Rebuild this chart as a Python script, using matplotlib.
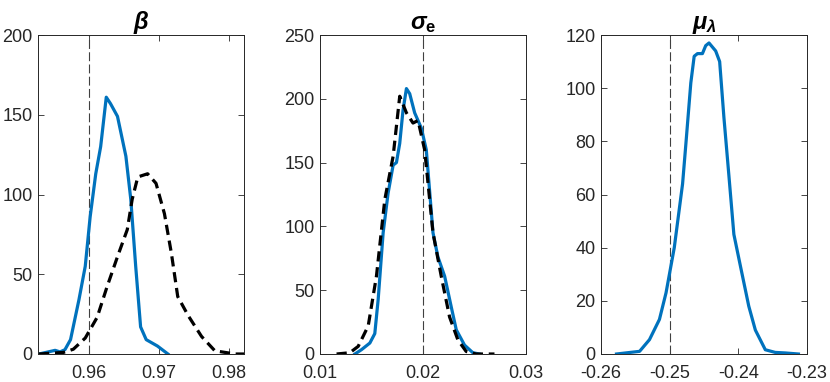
import numpy as np
import matplotlib
matplotlib.use('Agg')
import matplotlib.pyplot as plt

plt.rcParams['font.family'] = ['Liberation Sans', 'DejaVu Sans']
plt.rcParams['mathtext.fontset'] = 'custom'
plt.rcParams['mathtext.it'] = 'Liberation Sans:italic:bold'
plt.rcParams['mathtext.rm'] = 'Liberation Sans:bold'
plt.rcParams['mathtext.bf'] = 'Liberation Sans:bold'

# beta posterior densities
beta_x1 = [0.9529, 0.9552, 0.9559, 0.9566, 0.9574, 0.9586, 0.9595, 0.9602, 0.9610,
           0.9617, 0.9625, 0.9631, 0.9641, 0.9653, 0.9660, 0.9667, 0.9674, 0.9682,
           0.9698, 0.9713]
beta_y1 = [0, 2.3, 1.3, 2.7, 9, 34, 55, 86, 113, 130, 161, 157, 149, 124, 97, 55, 17, 9, 5, 0]
beta_x2 = [0.9529, 0.9564, 0.9578, 0.9595, 0.9612, 0.9626, 0.9641, 0.9655, 0.9662,
           0.9670, 0.9684, 0.9696, 0.9708, 0.9718, 0.9727, 0.9742, 0.9761, 0.9780,
           0.9809, 0.9822]
beta_y2 = [0, 1, 3, 10, 23, 42, 61, 78, 97, 111, 113, 107, 88, 63, 36, 24, 11, 2, 0, 0]

# sigma_e posterior densities
sig_x1 = [0.01339, 0.01403, 0.01484, 0.01532, 0.01565, 0.01613, 0.01661, 0.01710,
          0.01742, 0.01774, 0.01806, 0.01839, 0.01871, 0.01919, 0.01984, 0.02032,
          0.02097, 0.02145, 0.02210, 0.02274, 0.02323, 0.02403, 0.02484, 0.02548]
sig_y1 = [0, 3.4, 8.6, 16, 43, 95, 126, 148, 150, 165, 191, 208, 204, 189, 177, 160,
          95, 76, 61, 37, 19, 7, 1, 0]
sig_x2 = [0.01161, 0.0129, 0.01371, 0.01468, 0.01548, 0.01629, 0.01710, 0.01774,
          0.01839, 0.01903, 0.01952, 0.02016, 0.02097, 0.02177, 0.02258, 0.02339,
          0.02419, 0.02516, 0.02694]
sig_y2 = [0, 1, 6, 22, 61, 121, 155, 202, 189, 181, 183, 160, 95, 61, 29, 11, 2, 0, 0]

# mu_lambda posterior density
mu_x1 = [-0.25774, -0.25438, -0.25294, -0.25149, -0.25053, -0.24933, -0.24812,
         -0.24764, -0.24692, -0.24643, -0.24595, -0.24523, -0.24475, -0.24427,
         -0.24330, -0.24272, -0.24210, -0.24137, -0.24065, -0.23969, -0.23848,
         -0.23752, -0.23607, -0.23463, -0.23318, -0.23125]
mu_y1 = [0, 1, 5.4, 13, 23, 40, 64, 79, 102, 112, 113, 113, 116, 117, 114, 110, 89,
         67, 45, 33, 18, 9, 1.6, 0.6, 0.4, 0]

true_vals = [0.96, 0.02, -0.25]
titles = [r'$\beta$', r'$\sigma_{\mathrm{e}}$', r'$\mu_{\lambda}$']
xlims = [(0.9528, 0.9822), (0.01, 0.03), (-0.26, -0.23)]
xticks = [[0.96, 0.97, 0.98], [0.01, 0.02, 0.03], [-0.26, -0.25, -0.24, -0.23]]
xticklabels = [['0.96', '0.97', '0.98'], ['0.01', '0.02', '0.03'],
               ['-0.26', '-0.25', '-0.24', '-0.23']]
ylims = [(0, 200), (0, 250), (0, 120)]
yticks = [np.arange(0, 201, 50), np.arange(0, 251, 50), np.arange(0, 121, 20)]

blue = '#0072BD'
axcol = '#262626'

fig = plt.figure(figsize=(8.3, 3.82), dpi=100)
lefts = [38.3 / 830, 320 / 830, 601 / 830]
width = 206 / 830
bottom = 28 / 382
height = 319 / 382

curves = [[(beta_x1, beta_y1), (beta_x2, beta_y2)],
          [(sig_x1, sig_y1), (sig_x2, sig_y2)],
          [(mu_x1, mu_y1)]]

for i in range(3):
    ax = fig.add_axes([lefts[i], bottom, width, height])
    ax.axvline(true_vals[i], color='#404040', lw=0.8, dashes=(8, 3))
    ax.plot(curves[i][0][0], curves[i][0][1], color=blue, lw=2.3)
    if len(curves[i]) > 1:
        ax.plot(curves[i][1][0], curves[i][1][1], color='k', lw=2.3,
                dashes=(3.2, 1.8))
    ax.set_xlim(xlims[i])
    ax.set_ylim(ylims[i])
    ax.set_xticks(xticks[i])
    ax.set_xticklabels(xticklabels[i])
    ax.set_yticks(yticks[i])
    ax.tick_params(direction='in', length=4, width=0.6, colors=axcol,
                   labelsize=13, top=True, right=True)
    ax.tick_params(axis='x', pad=8)
    ax.tick_params(axis='y', pad=4)
    for s in ax.spines.values():
        s.set_color(axcol)
        s.set_linewidth(0.7)
    ax.set_title(titles[i], fontsize=17, color='k', pad=4)

fig.savefig('out.png', dpi=100)
